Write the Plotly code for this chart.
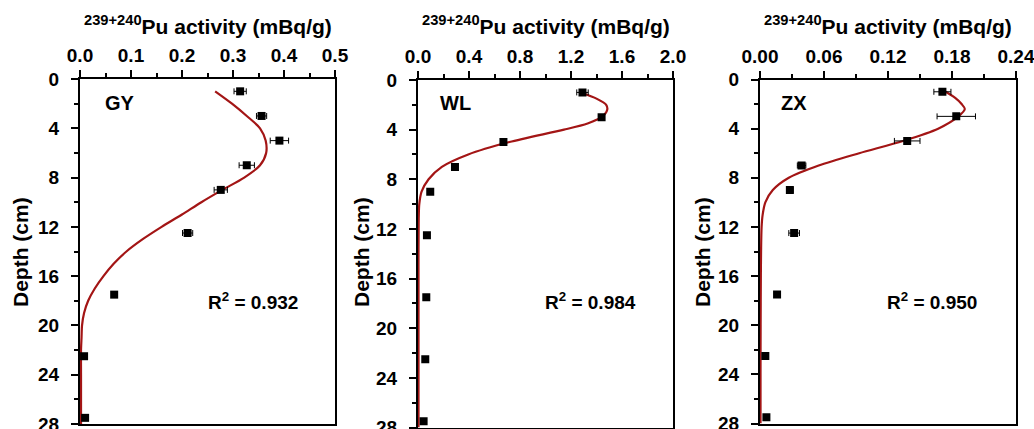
import plotly.graph_objects as go

W, H = 1034, 429

# ---- measured data (depth in cm, activity in mBq/g) ----
depth_pts = [1, 3, 5, 7, 9, 12.5, 17.5, 22.5, 27.5]

gy_act = [0.314, 0.356, 0.391, 0.327, 0.276, 0.211, 0.067, 0.008, 0.010]
gy_err = [0.012, 0.010, 0.018, 0.015, 0.013, 0.010, 0.0, 0.0, 0.0]

wl_act = [1.29, 1.44, 0.67, 0.29, 0.096, 0.070, 0.065, 0.057, 0.044]
wl_err = [0.045, 0.02, 0.0, 0.0, 0.0, 0.0, 0.0, 0.0, 0.0]

zx_act = [0.171, 0.184, 0.138, 0.039, 0.028, 0.032, 0.016, 0.005, 0.006]
zx_err = [0.008, 0.018, 0.012, 0.004, 0.003, 0.005, 0.0, 0.0, 0.0]

# ---- fitted curves ----
gy_fit_depth = [1, 2, 3, 4, 5, 6, 7, 8, 9, 10, 11, 12, 13, 14, 15, 16, 17, 18, 19, 20, 21, 22, 24, 26, 28]
gy_fit = [0.265, 0.298, 0.327, 0.353, 0.364, 0.365, 0.353, 0.322, 0.279, 0.238, 0.200, 0.160,
          0.123, 0.091, 0.066, 0.046, 0.029, 0.016, 0.008, 0.004, 0.003, 0.002, 0.002, 0.002, 0.002]

wl_fit_depth = [1.07, 1.5, 2, 2.4, 3, 3.5, 4, 5, 6, 7, 8, 9, 10, 11, 12, 14, 16, 20, 24, 28]
wl_fit = [1.293, 1.40, 1.476, 1.484, 1.44, 1.33, 1.145, 0.717, 0.394, 0.187, 0.083, 0.028, 0.010,
          0.006, 0.005, 0.004, 0.004, 0.004, 0.004, 0.004]

zx_fit_depth = [0.9, 1.5, 2, 2.4, 3, 4, 5, 6, 7, 8, 9, 10, 11, 12, 14, 16, 20, 24, 28]
zx_fit = [0.172, 0.183, 0.189, 0.192, 0.186, 0.167, 0.134, 0.093, 0.055, 0.027, 0.012, 0.005,
          0.0025, 0.0015, 0.001, 0.0008, 0.0006, 0.0005, 0.0005]

panels = ["GY", "WL", "ZX"]
r2_labels = ["0.932", "0.984", "0.950"]
x_ranges = [[0, 0.5], [0, 2.0], [0, 0.24]]
x_dticks = [0.1, 0.4, 0.06]
x_formats = [".1f", ".1f", ".2f"]

# pixel boxes of the plot areas: (left, right, top, bottom)
boxes = [(80, 335, 79, 424), (418, 673, 80, 427.5), (760, 1016, 79.5, 423.5)]

FONT = "Liberation Sans, Arial, sans-serif"
CURVE = "#A31515"

acts = [gy_act, wl_act, zx_act]
errs = [gy_err, wl_err, zx_err]
fits = [(gy_fit_depth, gy_fit), (wl_fit_depth, wl_fit), (zx_fit_depth, zx_fit)]

fig = go.Figure()
layout = dict()
annotations = []

for i in range(3):
    sfx = "" if i == 0 else str(i + 1)
    xa, ya = "x" + sfx, "y" + sfx
    fd, fv = fits[i]
    fig.add_trace(go.Scatter(x=fv, y=fd, mode="lines", xaxis=xa, yaxis=ya,
                             line=dict(color=CURVE, width=2.2, shape="spline", smoothing=0.8),
                             showlegend=False, hoverinfo="skip"))
    fig.add_trace(go.Scatter(x=acts[i], y=depth_pts, mode="markers", xaxis=xa, yaxis=ya,
                             marker=dict(symbol="square", size=8, color="black"),
                             error_x=dict(type="data", array=errs[i], color="black",
                                          thickness=1, width=3),
                             showlegend=False))
    l, r, t, b = boxes[i]
    common = dict(showline=True, mirror=True, linecolor="black", linewidth=2,
                  ticks="outside", ticklen=7, tickwidth=1.5, tickcolor="black",
                  showgrid=False, zeroline=False, automargin=False,
                  ticklabeloverflow="allow",
                  tickfont=dict(size=19, family=FONT, color="black", weight="bold"))
    layout["xaxis" + sfx] = dict(
        domain=[l / W, r / W], range=x_ranges[i], dtick=x_dticks[i], tick0=0,
        tickformat=x_formats[i], side="top", anchor=ya, ticklabelstandoff=0,
        minor=dict(dtick=x_dticks[i] / 2, ticks="outside", ticklen=4, tickwidth=1.5,
                   tickcolor="black", showgrid=False),
        **common)
    layout["yaxis" + sfx] = dict(
        domain=[1 - b / H, 1 - t / H], range=[28, 0], dtick=4, tick0=0, anchor=xa,
        ticklabelstandoff=8,
        minor=dict(dtick=2, ticks="outside", ticklen=4, tickwidth=1.5,
                   tickcolor="black", showgrid=False),
        **common)
    # top title
    annotations.append(dict(
        text="<sup>239+240</sup>Pu activity (mBq/g)", x=(l + r) / 2 / W, y=1 - 25 / H,
        xref="paper", yref="paper", showarrow=False, xanchor="center", yanchor="middle",
        font=dict(size=21, family=FONT, color="black", weight="bold")))
    # y title
    ytx = [20, 361, 702][i]
    annotations.append(dict(
        text="Depth (cm)", x=ytx / W, y=1 - 252 / H, textangle=-90,
        xref="paper", yref="paper", showarrow=False, xanchor="center", yanchor="middle",
        font=dict(size=21, family=FONT, color="black", weight="bold")))
    # panel label
    plx = [103, 438, 779][i]
    annotations.append(dict(
        text=panels[i], x=plx / W, y=1 - 103 / H, xref="paper", yref="paper",
        showarrow=False, xanchor="left", yanchor="middle",
        font=dict(size=20, family=FONT, color="black", weight="bold")))
    # R2
    rx = [253, 590, 932][i]
    annotations.append(dict(
        text="R<sup>2</sup> = " + r2_labels[i], x=rx / W, y=1 - 301 / H,
        xref="paper", yref="paper", showarrow=False, xanchor="center", yanchor="middle",
        font=dict(size=19, family=FONT, color="black", weight="bold")))

fig.update_layout(
    width=W, height=H, margin=dict(l=0, r=0, t=0, b=0),
    paper_bgcolor="white", plot_bgcolor="white",
    font=dict(family=FONT, size=16, color="black", weight="bold"),
    annotations=annotations, showlegend=False, **layout)

fig.write_html("out.html", config={"displayModeBar": False},
               post_script="document.body.style.margin='0';document.body.style.overflow='hidden';")
